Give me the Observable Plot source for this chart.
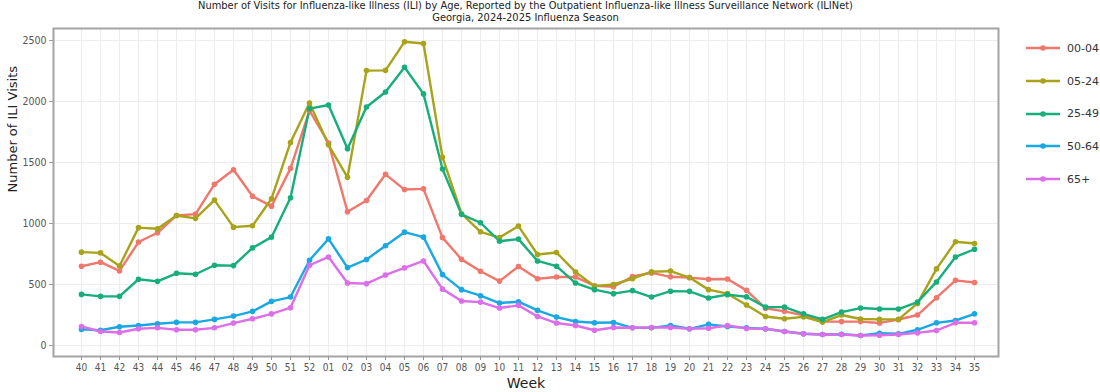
<!DOCTYPE html>
<html>
<head>
<meta charset="utf-8">
<script src="https://cdn.jsdelivr.net/npm/d3@7"></script>
<script src="https://cdn.jsdelivr.net/npm/@observablehq/plot@0.6"></script>
<style>
  html, body { margin: 0; padding: 0; background: #fff; }
  #wrap { position: relative; width: 1100px; height: 392px; overflow: hidden; font-family: "DejaVu Sans Condensed", "DejaVu Sans", sans-serif; }
  .title { position: absolute; left: 53px; width: 945px; text-align: center; font-size: 11px; color: #222; line-height: 12px; }
  #legend { position: absolute; left: 1025px; top: 32px; font-family: "DejaVu Sans", sans-serif; font-size: 11px; color: #333; }
  .item { height: 32.7px; display: flex; align-items: center; }
  .item svg { margin-right: 6px; }
</style>
</head>
<body>
<div id="wrap">
  <div id="chart"></div>
  <div class="title" style="top:0px">Number of Visits for Influenza-like Illness (ILI) by Age, Reported by the Outpatient Influenza-like Illness Surveillance Network (ILINet)</div>
  <div class="title" style="top:12px">Georgia, 2024-2025 Influenza Season</div>
  <div id="legend"></div>
</div>
<script>
const weeks = ["40","41","42","43","44","45","46","47","48","49","50","51","52",
  "01","02","03","04","05","06","07","08","09","10","11","12","13","14","15","16","17","18","19","20",
  "21","22","23","24","25","26","27","28","29","30","31","32","33","34","35"];

const groups = ["00-04", "05-24", "25-49", "50-64", "65+"];
const colors = ["#F0776C", "#A8A31A", "#17AE7A", "#1AA8E2", "#DC6EEA"];

const age0004 = [650,683,611,848,924,1066,1077,1322,1440,1223,1142,1452,1925,
  1660,1096,1188,1403,1278,1284,884,706,609,528,648,547,561,561,490,482,566,595,563,556,
  543,545,452,305,280,247,197,196,196,185,213,250,392,534,516];
const age0524 = [765,759,652,966,957,1066,1042,1192,970,981,1203,1664,1988,
  1645,1378,2253,2255,2489,2475,1543,1080,932,885,979,746,762,603,487,500,548,605,610,557,
  458,425,332,238,219,235,192,250,217,214,214,345,628,850,836];
const age2549 = [419,403,403,543,526,592,584,658,655,800,888,1211,1941,
  1971,1612,1955,2078,2281,2062,1447,1075,1006,855,872,693,650,512,458,425,450,397,445,444,
  389,417,400,315,315,260,214,274,307,299,299,356,521,726,789];
const age5064 = [132,125,154,164,178,190,190,214,241,280,362,397,699,
  874,639,705,817,929,888,581,458,408,348,359,288,233,197,186,189,145,145,164,137,
  173,156,145,137,115,96,90,92,82,101,96,129,186,205,260];
const age65 = [156,115,107,137,145,129,129,145,184,219,260,310,658,
  726,512,507,578,636,693,462,365,356,307,329,238,184,164,125,148,145,148,148,137,
  142,164,140,137,115,96,90,90,82,84,90,104,123,186,186];

const yTicks = [0, 500, 1000, 1500, 2000, 2500];

const seriesValues = [age0004, age0524, age2549, age5064, age65];
const rows = [];
groups.forEach((g, gi) => {
  weeks.forEach((w, wi) => rows.push({week: w, value: seriesValues[gi][wi], group: g}));
});

const chart = Plot.plot({
  width: 1100,
  height: 392,
  marginLeft: 53,
  marginRight: 102,
  marginTop: 28,
  marginBottom: 36,
  style: {fontFamily: "'DejaVu Sans Condensed', 'DejaVu Sans', sans-serif", background: "#fff", overflow: "visible"},
  x: {type: "point", domain: weeks, range: [61, 993]},
  y: {domain: [-90, 2598]},
  color: {domain: groups, range: colors},
  marks: [
    Plot.gridX(weeks, {stroke: "#ededed", strokeOpacity: 1}),
    Plot.gridY(yTicks, {stroke: "#ededed", strokeOpacity: 1}),
    Plot.line(rows, {x: "week", y: "value", z: "group", stroke: "group", strokeWidth: 2.4}),
    Plot.dot(rows, {x: "week", y: "value", fill: "group", r: 2.8}),
    Plot.frame({stroke: "#a3a3a3", strokeWidth: 2}),
    Plot.axisX(weeks, {tickSize: 4, tickPadding: 3, fontSize: 10, color: "#555", stroke: "#999", label: null}),
    Plot.axisY(yTicks, {tickSize: 4, tickPadding: 3, fontSize: 10.5, color: "#555", stroke: "#999", label: null, tickFormat: d => String(d)}),
    Plot.text(["Week"], {frameAnchor: "bottom", dy: 31, fontSize: 14, fill: "#222", fontFamily: "'DejaVu Sans', sans-serif"}),
    Plot.text(["Number of ILI Visits"], {frameAnchor: "left", dx: -41, rotate: -90, fontSize: 13, fill: "#222", fontFamily: "'DejaVu Sans', sans-serif"})
  ]
});
document.getElementById("chart").appendChild(chart);

const legend = document.getElementById("legend");
groups.forEach((g, i) => {
  const div = document.createElement("div");
  div.className = "item";
  div.innerHTML = `<svg width="36" height="10"><line x1="1" y1="5" x2="35" y2="5" stroke="${colors[i]}" stroke-width="2.4"/><circle cx="18" cy="5" r="2.8" fill="${colors[i]}"/></svg><span>${g}</span>`;
  legend.appendChild(div);
});
</script>
</body>
</html>
